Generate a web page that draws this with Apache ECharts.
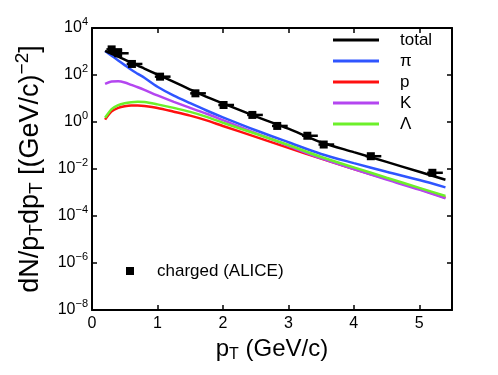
<!DOCTYPE html>
<html>
<head>
<meta charset="utf-8">
<script src="https://cdn.jsdelivr.net/npm/echarts@6/dist/echarts.min.js"></script>
<style>
  html, body { margin: 0; padding: 0; background: #fff; }
  #chart { width: 498px; height: 375px; }
</style>
</head>
<body>
<div id="chart"></div>
<script>
// model curves, pT grid (GeV/c)
const ptGrid = [0.2, 0.3, 0.4, 0.5, 0.6, 0.7, 0.8, 1.0, 1.25, 1.5, 1.75, 2.0, 2.5, 3.0, 3.5, 4.0, 4.5, 5.0, 5.4];
const totalVals = [1070, 795, 600, 447, 330, 251, 186, 105, 51, 24, 11.7, 6.2, 1.74, 0.52, 0.138, 0.052, 0.020, 0.0076, 0.0035];
const pionVals = [1050, 660, 417, 263, 166, 112, 76, 31.6, 13.2, 6.3, 3.09, 1.58, 0.447, 0.138, 0.0437, 0.0178, 0.0076, 0.0034, 0.00166];
const protonVals = [1.26, 2.82, 3.98, 4.68, 5.01, 5.01, 4.79, 3.98, 2.75, 1.86, 1.17, 0.676, 0.234, 0.0794, 0.0275, 0.0100, 0.0038, 0.00141, 0.0006];
const kaonVals = [41.7, 52.5, 53.7, 47.9, 38, 30.2, 23.4, 13.5, 7.2, 3.98, 2.24, 1.20, 0.339, 0.0977, 0.0282, 0.0100, 0.00355, 0.00132, 0.00056];
const lambdaVals = [1.51, 3.55, 5.25, 6.31, 6.92, 7.24, 7.08, 5.62, 3.98, 2.69, 1.66, 0.933, 0.316, 0.105, 0.0324, 0.0117, 0.00427, 0.00158, 0.00071];

// ALICE charged hadrons
const dataPt = [0.30, 0.40, 0.61, 1.04, 1.58, 2.01, 2.45, 2.83, 3.29, 3.54, 4.26, 5.20];
const dataY = [1230, 840, 295, 85, 16.6, 5.3, 2.0, 0.68, 0.26, 0.11, 0.035, 0.0069];
const dataXLo = [0.08, 0.08, 0.08, 0.08, 0.08, 0.08, 0.08, 0.08, 0.08, 0.08, 0.08, 0.08];
const dataXHi = [0.16, 0.16, 0.16, 0.16, 0.16, 0.16, 0.16, 0.16, 0.16, 0.16, 0.16, 0.16];

const FONT = 'Liberation Sans, Arial, Helvetica, sans-serif';

function pairs(vals) {
  return ptGrid.map((x, i) => [x, vals[i]]);
}

function lineSeries(name, vals, color, width) {
  return {
    name: name,
    type: 'line',
    data: pairs(vals),
    showSymbol: false,
    smooth: 0.3,
    lineStyle: { color: color, width: width || 2.5 },
    itemStyle: { color: color }
  };
}

const chart = echarts.init(document.getElementById('chart'));

// y labels as 10^n
function powLabel(v) {
  const e = Math.round(Math.log10(v));
  return '{b|10}{s|' + (e < 0 ? '\u2212' + (-e) : e) + '}';
}

const tickCommon = { inside: true, length: 5, lineStyle: { color: '#000', width: 1.5 } };
const lineCommon = { show: true, onZero: false, lineStyle: { color: '#000', width: 2 } };

const option = {
  animation: false,
  backgroundColor: '#fff',
  textStyle: { fontFamily: FONT },
  grid: { left: 92, right: 46, top: 28, bottom: 65, containLabel: false },
  legend: [{
    data: ['total', 'π', 'p', 'K', 'Λ'],
    orient: 'vertical',
    left: 333, top: 31,
    padding: 0,
    icon: 'rect',
    itemWidth: 46, itemHeight: 3,
    itemGap: 3,
    textStyle: { fontSize: 17, lineHeight: 18, color: '#000', padding: [0, 0, 0, 16], fontFamily: FONT }
  }, {
    data: ['charged (ALICE)'],
    left: 126, top: 262,
    padding: 0,
    icon: 'rect',
    itemWidth: 8, itemHeight: 8,
    itemStyle: { opacity: 1 },
    textStyle: { fontSize: 17, lineHeight: 18, color: '#000', padding: [0, 0, 0, 18], fontFamily: FONT }
  }],
  xAxis: [{
    type: 'value', min: 0, max: 5.5, interval: 1,
    position: 'bottom',
    axisLine: lineCommon,
    axisTick: tickCommon,
    splitLine: { show: false },
    axisLabel: { fontSize: 16, color: '#000', margin: 6, showMaxLabel: false, fontFamily: FONT },
    name: '{m|p}{d|T}{m| (GeV/c)}',
    nameLocation: 'middle', nameGap: 23,
    nameTextStyle: {
      color: '#000', fontFamily: FONT,
      rich: {
        m: { fontSize: 24, color: '#000', fontFamily: FONT },
        d: { fontSize: 16, color: '#000', padding: [12, 0, 0, 0], fontFamily: FONT }
      }
    }
  }, {
    type: 'value', min: 0, max: 5.5, interval: 1,
    position: 'top',
    axisLine: lineCommon,
    axisTick: tickCommon,
    splitLine: { show: false },
    axisLabel: { show: false }
  }],
  yAxis: [{
    type: 'log', logBase: 10, min: 1e-8, max: 1e4, interval: 2,
    position: 'left',
    axisLine: lineCommon,
    axisTick: tickCommon,
    minorTick: { show: false },
    splitLine: { show: false },
    axisLabel: {
      margin: 4, color: '#000', fontFamily: FONT,
      formatter: powLabel,
      rich: {
        b: { fontSize: 16, color: '#000', fontFamily: FONT },
        s: { fontSize: 11, color: '#000', padding: [0, 0, 12, 0], fontFamily: FONT }
      }
    },
    name: '{m|dN/p}{d|T}{m|dp}{d|T}{m| [(GeV/c)}{u|\u22122}{m|]}',
    nameLocation: 'middle', nameGap: 44, nameRotate: 90,
    nameTextStyle: {
      color: '#000', fontFamily: FONT,
      rich: {
        m: { fontSize: 27, color: '#000', fontFamily: FONT },
        d: { fontSize: 19, color: '#000', padding: [12, 0, 0, 0], fontFamily: FONT },
        u: { fontSize: 19, color: '#000', padding: [0, 0, 16, 0], fontFamily: FONT }
      }
    }
  }, {
    type: 'log', logBase: 10, min: 1e-8, max: 1e4, interval: 2,
    position: 'right',
    axisLine: lineCommon,
    axisTick: tickCommon,
    splitLine: { show: false },
    axisLabel: { show: false }
  }],
  series: [
    lineSeries('π', pionVals, '#2f55ff'),
    lineSeries('p', protonVals, '#ff1010'),
    lineSeries('K', kaonVals, '#b446f0'),
    lineSeries('Λ', lambdaVals, '#6cf02a'),
    lineSeries('total', totalVals, '#000000', 2.5),
    {
      name: 'errbar',
      type: 'custom',
      data: dataPt.map((x, i) => [x, dataY[i], dataXLo[i], dataXHi[i]]),
      renderItem: function (params, api) {
        const a = api.coord([api.value(0) - api.value(2), api.value(1)]);
        const b = api.coord([api.value(0) + api.value(3), api.value(1)]);
        return {
          type: 'line',
          shape: { x1: a[0], y1: a[1], x2: b[0], y2: b[1] },
          style: { stroke: '#000', lineWidth: 2.5 }
        };
      },
      z: 5
    },
    {
      name: 'charged (ALICE)',
      type: 'scatter',
      data: dataPt.map((x, i) => [x, dataY[i]]),
      symbol: 'rect',
      symbolSize: 8,
      itemStyle: { color: '#000', opacity: 1 },
      z: 6
    }
  ]
};

chart.setOption(option);
</script>
</body>
</html>
